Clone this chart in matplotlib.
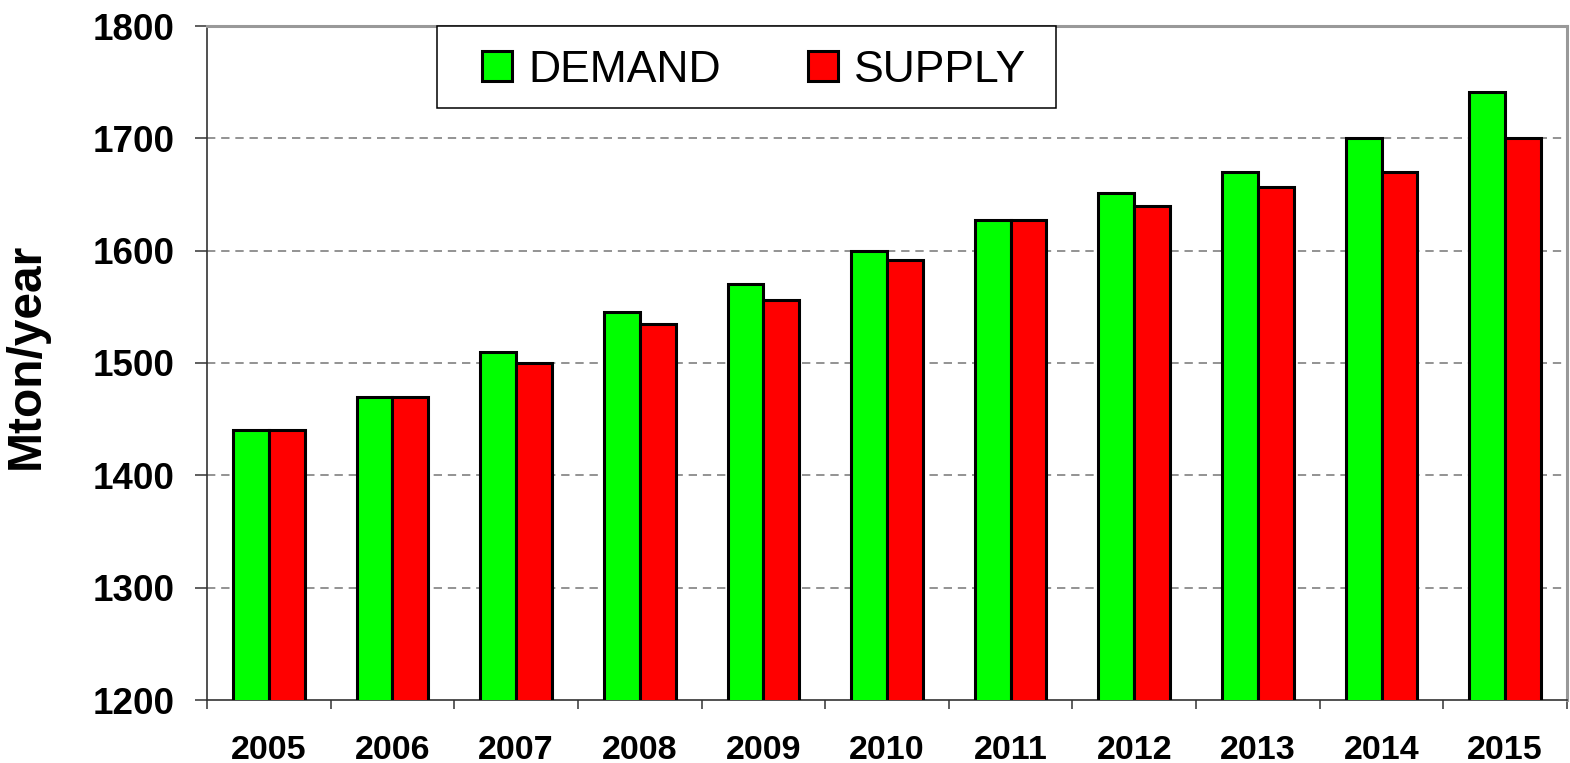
import matplotlib
matplotlib.use("Agg")
import matplotlib.pyplot as plt
import numpy as np
from matplotlib.patches import Patch, Rectangle

years = ["2005", "2006", "2007", "2008", "2009", "2010", "2011", "2012", "2013", "2014", "2015"]
demand = [1440, 1470, 1510, 1545, 1570, 1600, 1627, 1651, 1670, 1700, 1741]
supply = [1440, 1470, 1500, 1535, 1556, 1592, 1627, 1640, 1657, 1670, 1700]
yticks = [1200, 1300, 1400, 1500, 1600, 1700, 1800]

plt.rcParams['font.family'] = ['Liberation Sans', 'DejaVu Sans']

W, H = 1570, 763
fig = plt.figure(figsize=(W/100, H/100), dpi=100)
ax = fig.add_axes([207/W, 1-700/H, (1567-207)/W, (700-26)/H])

x = np.arange(len(years))
w = 0.29
ax.bar(x - w/2, demand, w, color='#00ff00', edgecolor='black', linewidth=2.2, zorder=3)
ax.bar(x + w/2, supply, w, color='#ff0000', edgecolor='black', linewidth=2.2, zorder=3)

ax.set_xlim(-0.5, len(years) - 0.5)
ax.set_ylim(1200, 1800)
ax.set_yticks(yticks)
ax.set_yticklabels([str(v) for v in yticks], fontsize=26.5, fontweight='bold')
ax.set_xticks(x)
ax.set_xticklabels(years, fontsize=24.5, fontweight='bold')
ax.tick_params(axis='x', which='major', length=0, pad=25)
ax.set_xticks(np.arange(len(years) + 1) - 0.5, minor=True)
ax.tick_params(axis='x', which='minor', length=6.5, width=1.1, color='#333333')
ax.tick_params(axis='y', length=8.6, width=1.1, color='#333333', pad=15)

for v in yticks[1:-1]:
    ax.axhline(v, color='#808080', linestyle=(0, (5, 3.5)), linewidth=1.2, zorder=1)

for s in ['top', 'right']:
    ax.spines[s].set_color('#999999')
    ax.spines[s].set_linewidth(2.2)
for s in ['left', 'bottom']:
    ax.spines[s].set_color('#333333')
    ax.spines[s].set_linewidth(1.2)

ax.set_ylabel('Mton/year', fontsize=34.5, fontweight='bold')
ax.yaxis.set_label_coords((49-207)/1360, (700-356)/674)

# legend frame
fig.add_artist(Rectangle((437/W, 1-108/H), (1056-437)/W, (108-26)/H,
                         transform=fig.transFigure, facecolor='white',
                         edgecolor='black', linewidth=1.1, zorder=4))

handles = [Patch(facecolor='#00ff00', edgecolor='black', linewidth=2.2),
           Patch(facecolor='#ff0000', edgecolor='black', linewidth=2.2)]
leg = fig.legend(handles, ['DEMAND', 'SUPPLY'], ncol=2, loc='center left',
                 bbox_to_anchor=(482/W, 1-70/H), bbox_transform=fig.transFigure,
                 fontsize=32, frameon=False,
                 handlelength=0.68, handleheight=0.68, handletextpad=0.36,
                 columnspacing=1.96, borderpad=0, borderaxespad=0)
leg.set_zorder(5)

fig.savefig('out.png', dpi=100, facecolor='white')
